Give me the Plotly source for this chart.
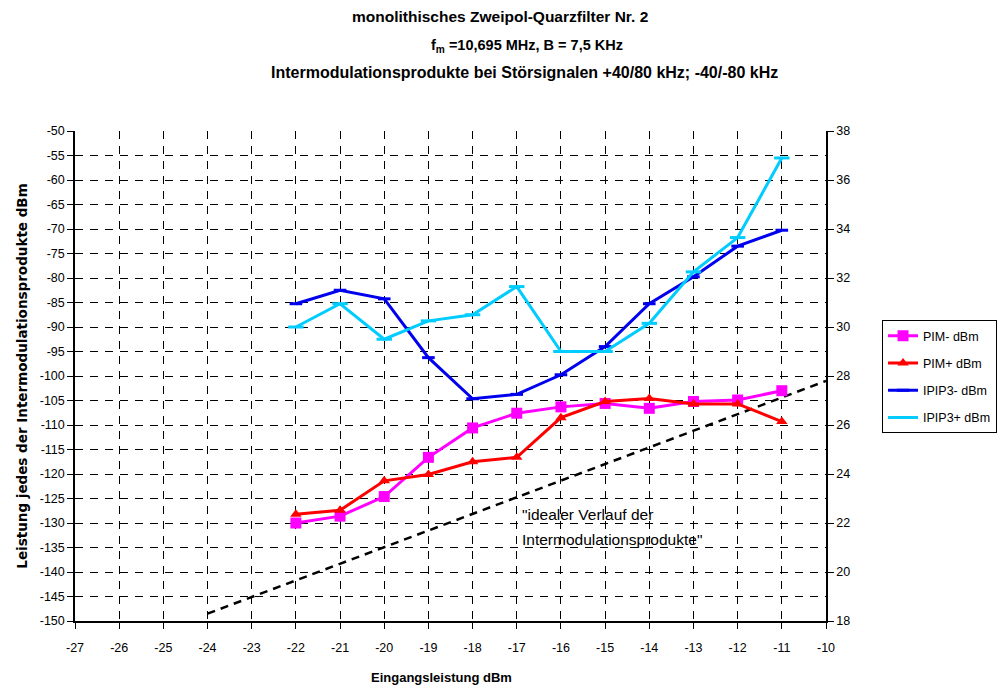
import plotly.graph_objects as go

# ---- data ----
x_vals = [-22, -21, -20, -19, -18, -17, -16, -15, -14, -13, -12, -11]
pim_minus = [-130.0, -128.6, -124.6, -116.6, -110.6, -107.6, -106.3, -105.6, -106.6, -105.2, -104.9, -103.0]
pim_plus = [-128.2, -127.4, -121.4, -120.1, -117.5, -116.6, -108.5, -105.2, -104.6, -105.7, -105.7, -109.3]
ipip3_minus = [30.95, 31.5, 31.15, 28.75, 27.07, 27.25, 28.05, 29.2, 30.95, 32.05, 33.3, 33.95]
ipip3_plus = [30.0, 30.95, 29.5, 30.25, 30.5, 31.65, 29.0, 29.0, 30.15, 32.25, 33.65, 36.9]
ideal_x = [-24, -10]
ideal_y = [-148.5, -101.0]

x_ticks = list(range(-27, -9))
y_left_ticks = list(range(-150, -49, 5))
y_right_ticks = list(range(18, 39, 2))

FONT = "Liberation Sans, Arial, sans-serif"

fig = go.Figure()

fig.add_trace(go.Scatter(
    x=ideal_x, y=ideal_y, mode="lines", showlegend=False, hoverinfo="skip",
    line=dict(color="black", width=2.5, dash="8px,6px")))

fig.add_trace(go.Scatter(
    x=x_vals, y=pim_minus, mode="lines+markers", name="PIM- dBm", legendgroup="a",
    line=dict(color="#FF00FF", width=3),
    marker=dict(symbol="square", size=11, color="#FF00FF")))

fig.add_trace(go.Scatter(
    x=x_vals, y=pim_plus, mode="lines+markers", name="PIM+ dBm", legendgroup="b",
    line=dict(color="#FF0000", width=3),
    marker=dict(symbol="triangle-up", size=10, color="#FF0000")))

fig.add_trace(go.Scatter(
    x=x_vals, y=ipip3_minus, mode="lines+markers", name="IPIP3- dBm", legendgroup="c",
    yaxis="y2",
    line=dict(color="#0000EE", width=3),
    marker=dict(symbol="line-ew", size=9, color="#0000EE",
                line=dict(color="#0000EE", width=3))))

fig.add_trace(go.Scatter(
    x=x_vals, y=ipip3_plus, mode="lines+markers", name="IPIP3+ dBm", legendgroup="d",
    yaxis="y2",
    line=dict(color="#00CCFF", width=3),
    marker=dict(symbol="line-ew", size=11, color="#00CCFF",
                line=dict(color="#00CCFF", width=3))))

fig.update_layout(
    width=1000, height=689,
    margin=dict(l=75, r=174, t=131, b=68, autoexpand=False),
    paper_bgcolor="white", plot_bgcolor="white",
    font=dict(family=FONT, size=12, color="black"),
    xaxis=dict(
        range=[-27, -10], tickvals=x_ticks, ticktext=[str(v) for v in x_ticks],
        showgrid=True, gridcolor="black", gridwidth=1, griddash="8px,7px",
        showline=True, linecolor="black", linewidth=1.5,
        ticks="outside", ticklen=6, tickcolor="black", ticklabelstandoff=8,
        zeroline=False, automargin=False,
        tickfont=dict(size=12.5),
    ),
    yaxis=dict(
        range=[-150, -50], tickvals=y_left_ticks, ticktext=[str(v) for v in y_left_ticks],
        showgrid=True, gridcolor="black", gridwidth=1, griddash="8px,7px",
        showline=True, linecolor="black", linewidth=1.5,
        ticks="outside", ticklen=6, tickcolor="black",
        zeroline=False, automargin=False,
        tickfont=dict(size=12.5),
        title=dict(text="<b>Leistung jedes der Intermodulationsprodukte dBm</b>",
                   font=dict(size=13.5, family="DejaVu Sans, Liberation Sans, sans-serif"),
                   standoff=9),
    ),
    yaxis2=dict(
        range=[18, 38], tickvals=y_right_ticks, ticktext=[str(v) for v in y_right_ticks],
        overlaying="y", side="right", showgrid=False, zeroline=False,
        showline=True, linecolor="black", linewidth=1.5,
        ticks="outside", ticklen=6, tickcolor="black", automargin=False,
        tickfont=dict(size=12.5),
    ),
    legend=dict(
        x=1.0746, y=0.614, xanchor="left", yanchor="top",
        bordercolor="black", borderwidth=1, bgcolor="white",
        font=dict(size=12.5), tracegroupgap=8, itemwidth=30,
    ),
    showlegend=True,
)

title_lines = [
    ("<b>monolithisches Zweipol-Quarzfilter Nr. 2</b>", 15.5, 500, 16),
    ("<b>f<sub>m</sub> =10,695 MHz, B = 7,5 KHz</b>", 14.5, 527, 46),
    ("<b>Intermodulationsprodukte bei Störsignalen +40/80 kHz; -40/-80 kHz</b>", 16, 524, 73),
    ("<b>Eingangsleistung dBm</b>", 13, 441, 677),
]
for text, size, px, py in title_lines:
    fig.add_annotation(
        text=text, xref="paper", yref="paper",
        x=(px - 75) / 751, y=(621 - py) / 490,
        xanchor="center", yanchor="middle", showarrow=False,
        font=dict(size=size, family=FONT))

ideal_label = ['"idealer Verlauf der', 'Intermodulationsprodukte"']
for i, line in enumerate(ideal_label):
    fig.add_annotation(
        text=line, xref="x", yref="y", x=-16.92, y=-128.2 - 5.1 * i,
        xanchor="left", yanchor="middle", align="left", showarrow=False,
        font=dict(size=15.5, family=FONT))

fig.write_html("out.html")
